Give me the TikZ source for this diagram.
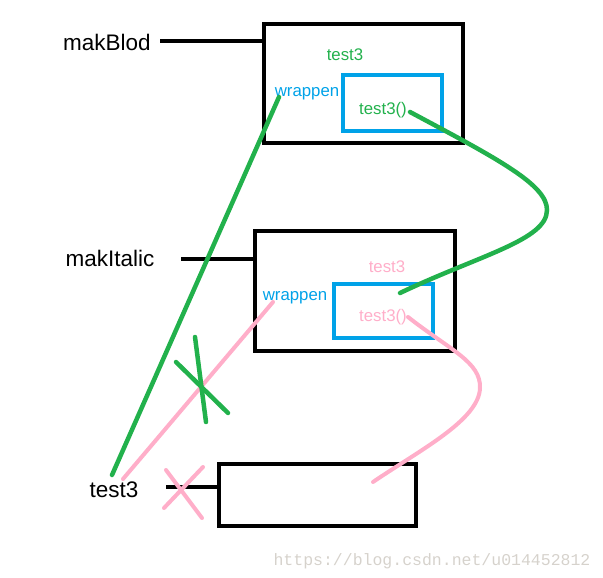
\documentclass[tikz,border=0pt]{standalone}
\usepackage{fontspec}
\setmainfont{Liberation Sans}
\setmonofont{Liberation Mono}
\usetikzlibrary{positioning}
\definecolor{paintgreen}{HTML}{22B14C}
\definecolor{paintblue}{HTML}{00A2E8}
\definecolor{paintpink}{HTML}{FFAEC9}
\definecolor{markgray}{HTML}{D6D2CC}

\begin{document}
\begin{tikzpicture}[x=1pt,y=-1pt,
    box/.style={draw,line width=4pt,inner sep=0pt},
    innerbox/.style={draw=paintblue,line width=4pt,inner sep=0pt,minimum width=99pt},
    bigtext/.style={inner sep=0pt,anchor=base,font=\fontsize{22.5}{26}\selectfont},
    smalltext/.style={inner sep=0pt,anchor=base,font=\fontsize{16.8}{19}\selectfont},
    stick/.style={line width=4pt},
    gline/.style={paintgreen,line width=4.5pt,line cap=round},
    pline/.style={paintpink,line width=4pt,line cap=round}]
    \useasboundingbox (0,0) rectangle (603,578);
    \begin{scope}
      \node[box,minimum width=199pt,minimum height=119pt] (blodbox) at (363.5,83.5) {};
      \node[innerbox,minimum height=56pt] (blodfn) at (392.5,103) {};
      \node[smalltext,paintgreen] (blodname) at (345,61) {test3};
      \node[smalltext,paintblue] (blodwrap) at (307,96) {wrappen};
      \node[smalltext,paintgreen] (blodcall) at (383,114) {test3()};
    \end{scope}
    \begin{scope}
      \node[box,minimum width=200pt,minimum height=120pt] (italicbox) at (355,291) {};
      \node[innerbox,minimum height=54pt] (italicfn) at (383.5,311) {};
      \node[smalltext,paintpink] (italicname) at (387,272) {test3};
      \node[smalltext,paintblue] (italicwrap) at (295,300) {wrappen};
      \node[smalltext,paintpink] (italiccall) at (383,321) {test3()};
    \end{scope}
    \node[box,minimum width=197pt,minimum height=62pt] (testbox) at (317.5,495) {};
    \node[bigtext] (blod) at (107,51) {makBlod};
    \node[bigtext] (italic) at (110,266) {makItalic};
    \node[bigtext] (tst) at (114,497) {test3};
    \coordinate (blodstub) at (160,41);
    \coordinate (italicstub) at (181,259);
    \coordinate (tststub) at (166,487);
    \draw[stick] (blodstub) -- (blodstub -| blodbox.west);
    \draw[stick] (italicstub) -- (italicstub -| italicbox.west);
    \draw[stick] (tststub) -- (tststub -| testbox.west);
    \coordinate (gtop) at (279,97);
    \coordinate (gbot) at (112,475);
    \coordinate (ptop) at (273,302);
    \coordinate (pbot) at (123,479);
    \coordinate (gcurvea) at (410,112);
    \coordinate (gturn) at (547,210);
    \coordinate (gcurveb) at (400,293);
    \coordinate (pcurvea) at (408,317);
    \coordinate (pturn) at (480,388);
    \coordinate (pcurveb) at (373,482);
    \draw[gline] (gtop) -- (gbot);
    \draw[pline] (ptop) -- (pbot);
    \draw[gline] (gcurvea) .. controls (500,160) and (547,185) .. (gturn)
      .. controls (547,240) and (480,255) .. (gcurveb);
    \draw[pline] (pcurvea) .. controls (450,350) and (481,362) .. (pturn)
      .. controls (479,420) and (420,450) .. (pcurveb);
    \draw[gline] (195,337) -- (206,422);
    \draw[gline] (176,362) -- (228,413);
    \draw[pline] (166,470) -- (202,518);
    \draw[pline] (164,508) -- (203,467);
    \node[inner sep=0pt,anchor=base,markgray,font=\ttfamily\fontsize{16.5}{19}\selectfont] (mark) at (432,565) {https://blog.csdn.net/u014452812};
\end{tikzpicture}
\end{document}
